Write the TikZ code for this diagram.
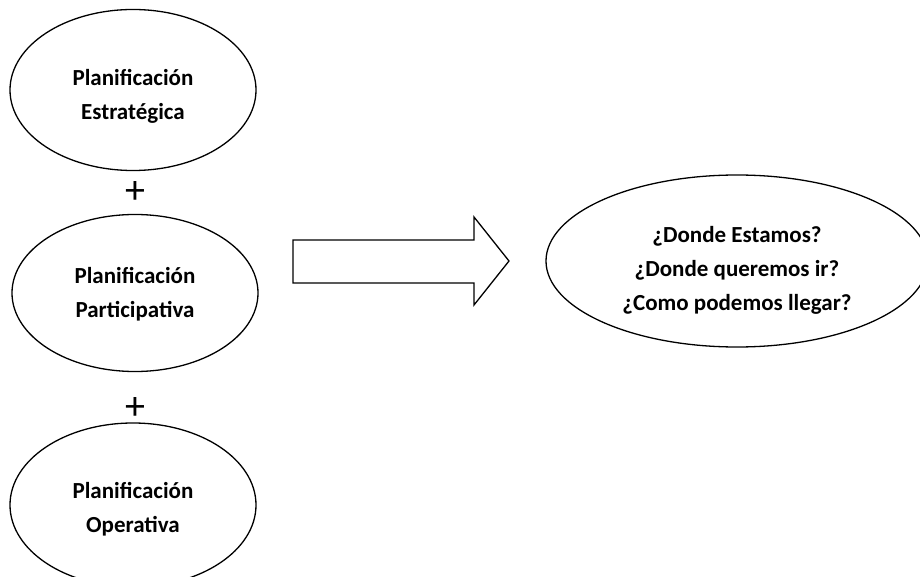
\documentclass[tikz,border=0pt]{standalone}
\usepackage{fontspec}
\setmainfont{Carlito}
\usetikzlibrary{shapes.geometric}
\begin{document}
\begin{tikzpicture}[x=1pt,y=-1pt,
  ell/.style={draw, line width=1.3pt, ellipse, inner sep=0pt},
  lbl/.style={inner sep=0pt, align=center, font=\fontsize{23}{34}\selectfont\bfseries},
  plussign/.style={inner sep=0pt, font=\fontsize{40}{40}\selectfont},
  bigarrow/.style={draw, line width=1.3pt, line join=miter}]
\useasboundingbox (0,0) rectangle (920,577);
\clip (0,0) rectangle (920,577);
\node[ell, minimum width=246pt, minimum height=161pt] (e1) at (133,90) {};
\node[lbl] (t1) at (133,96.5) {Planificación\\Estratégica};
\node[plussign] (p1) at (135,193) {+};
\node[ell, minimum width=246pt, minimum height=157pt] (e2) at (135,293) {};
\node[lbl] (t2) at (135,294) {Planificación\\Participativa};
\node[plussign] (p2) at (135,409) {+};
\node[ell, minimum width=246pt, minimum height=164pt] (e3) at (133,505) {};
\node[lbl] (t3) at (133,509) {Planificación\\Operativa};
\node[ell, minimum width=382pt, minimum height=172pt] (q) at (737,261) {};
\node[lbl] (tq) at (737,270) {¿Donde Estamos?\\¿Donde queremos ir?\\¿Como podemos llegar?};
\draw[bigarrow] (293,240) -- (474,240) -- (474,217) -- (509,261) -- (474,305) -- (474,283) -- (293,283) -- cycle;
\end{tikzpicture}
\end{document}
